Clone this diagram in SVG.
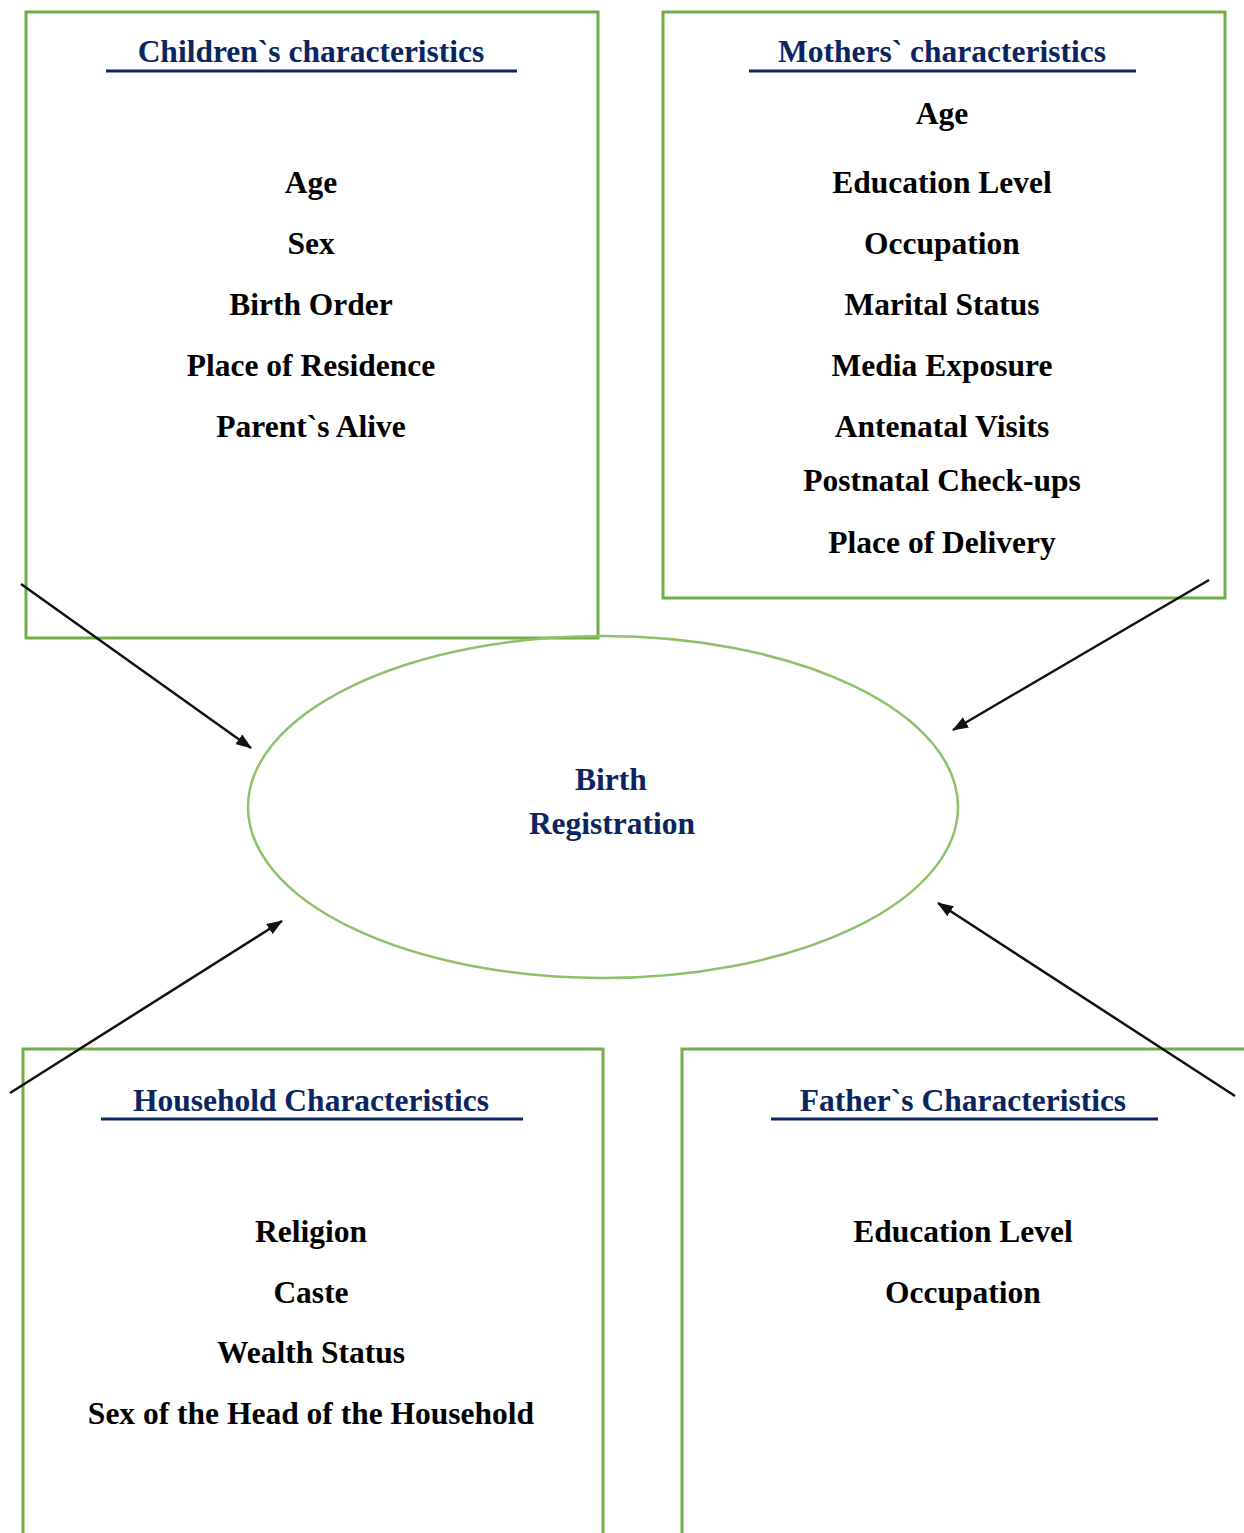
<svg xmlns="http://www.w3.org/2000/svg" width="1244" height="1533" viewBox="0 0 1244 1533">
<style>
.box{fill:none;stroke:#70AD47;stroke-width:3}
.ell{fill:none;stroke:#8DC26A;stroke-width:2.5}
.t{font-family:"Liberation Serif","Times New Roman",serif;font-weight:bold;font-size:31.5px;text-anchor:middle}
.title{fill:#0B2560}
.item{fill:#000}
.ul{stroke:#0B2560;stroke-width:3}
.arr{stroke:#111;stroke-width:2.5;fill:none;marker-end:url(#ah)}
</style>
<defs>
<marker id="ah" markerWidth="16" markerHeight="12" refX="15" refY="6" orient="auto" markerUnits="userSpaceOnUse" viewBox="0 0 16 12">
<path d="M0,0 L16,6 L0,12 Z" fill="#111"/>
</marker>
</defs>
<rect width="1244" height="1533" fill="#fff"/>
<g id="children">
<rect class="box" x="26" y="12" width="572" height="626"/>
<text class="t title" x="311" y="62">Children`s characteristics</text>
<line class="ul" x1="106" y1="71" x2="517" y2="71"/>
<text class="t item" x="311" y="193">Age</text>
<text class="t item" x="311" y="254">Sex</text>
<text class="t item" x="311" y="315">Birth Order</text>
<text class="t item" x="311" y="376">Place of Residence</text>
<text class="t item" x="311" y="437">Parent`s Alive</text>
</g>
<g id="mothers">
<rect class="box" x="663" y="12" width="562" height="586"/>
<text class="t title" x="942" y="62">Mothers` characteristics</text>
<line class="ul" x1="749" y1="71" x2="1136" y2="71"/>
<text class="t item" x="942" y="124">Age</text>
<text class="t item" x="942" y="193">Education Level</text>
<text class="t item" x="942" y="254">Occupation</text>
<text class="t item" x="942" y="315">Marital Status</text>
<text class="t item" x="942" y="376">Media Exposure</text>
<text class="t item" x="942" y="437">Antenatal Visits</text>
<text class="t item" x="942" y="491">Postnatal Check-ups</text>
<text class="t item" x="942" y="553">Place of Delivery</text>
</g>
<g id="birth">
<ellipse class="ell" cx="603" cy="807" rx="355" ry="171"/>
<text class="t title" x="611" y="790">Birth</text>
<text class="t title" x="612" y="834">Registration</text>
</g>
<g id="household">
<path class="box" d="M23,1535 V1049 H603 V1535"/>
<text class="t title" x="311" y="1111">Household Characteristics</text>
<line class="ul" x1="101" y1="1119" x2="523" y2="1119"/>
<text class="t item" x="311" y="1242">Religion</text>
<text class="t item" x="311" y="1303">Caste</text>
<text class="t item" x="311" y="1363">Wealth Status</text>
<text class="t item" x="311" y="1424">Sex of the Head of the Household</text>
</g>
<g id="father">
<path class="box" d="M682,1535 V1049 H1246"/>
<text class="t title" x="963" y="1111">Father`s Characteristics</text>
<line class="ul" x1="771" y1="1119" x2="1158" y2="1119"/>
<text class="t item" x="963" y="1242">Education Level</text>
<text class="t item" x="963" y="1303">Occupation</text>
</g>
<g id="connectors">
<line class="arr" x1="21" y1="584" x2="251" y2="748"/>
<line class="arr" x1="1209" y1="580" x2="953" y2="730"/>
<line class="arr" x1="10" y1="1093" x2="282" y2="921"/>
<line class="arr" x1="1235" y1="1096" x2="938" y2="903"/>
</g>
</svg>
